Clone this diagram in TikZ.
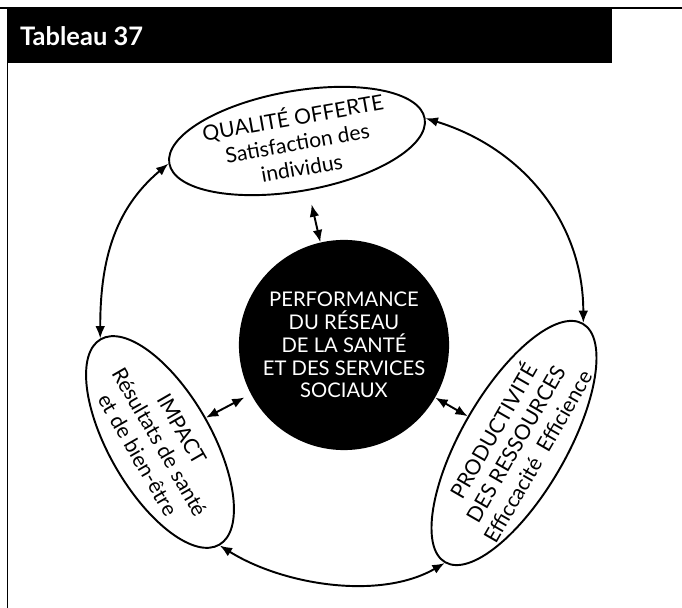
\documentclass[tikz,border=0pt]{standalone}
\usepackage{fontspec}
\setmainfont{Lato}
\usetikzlibrary{positioning, arrows.meta, shapes.geometric}

\begin{document}
\begin{tikzpicture}[
  every node/.style={font=\fontsize{11.5}{13}\selectfont},
  oval/.style={ellipse, draw, line width=1.1pt, inner xsep=0pt, inner ysep=-8pt, align=center,
    font=\fontsize{12}{14.5}\selectfont},
  dbl/.style={{Latex[length=7pt,width=5.5pt]}-{Latex[length=7pt,width=5.5pt]}, line width=1.1pt}
]
\useasboundingbox (0,0) rectangle (13.64,-12.16);

% Header
\draw[line width=0.6pt] (0,-0.16) -- (13.64,-0.16);
\fill (0.14,-0.18) rectangle (12.24,-1.26);
\draw[line width=0.5pt] (0.14,-0.2) -- (0.14,-12.16);
\node[anchor=base west, text=white, font=\fontsize{14.5}{16}\selectfont\bfseries] (title) at (0.28,-0.92) {Tableau 37};

% Centre
\node[circle, fill=black, text=white, minimum size=4cm, align=center] (perf) at (6.88,-6.90)
  {PERFORMANCE\\DU RÉSEAU\\DE LA SANTÉ\\ET DES SERVICES\\SOCIAUX};

% Three ovals
\node[oval, rotate=10, minimum width=4.5cm, minimum height=2cm] (qual) at (5.94,-2.82)
  {QUALITÉ OFFERTE\\Satisfaction des\\individus};
\node[oval, rotate=-60, minimum width=4.72cm, minimum height=2.04cm] (impact) at (3.20,-8.84)
  {IMPACT\\Résultats de santé\\et de bien-être};
\node[oval, rotate=60, minimum width=4.7cm, minimum height=2.1cm] (prod) at (10.28,-8.86)
  {PRODUCTIVITÉ\\DES RESSOURCES\\Efficcacité\enspace Efficience};

% Outer arrows
\draw[dbl] (qual.east) to[out=-17, in=90] (prod.east);
\draw[dbl] (qual.west) to[out=220, in=90] (impact.west);
\draw[dbl] (impact.east) to[out=-32, in=210, looseness=0.85] (prod.west);

% Inner arrows
\draw[dbl, shorten <=8pt] (qual) -- (perf);
\draw[dbl, shorten >=4pt] (impact) -- (perf);
\draw[dbl] (perf) -- (prod);

\end{tikzpicture}
\end{document}
